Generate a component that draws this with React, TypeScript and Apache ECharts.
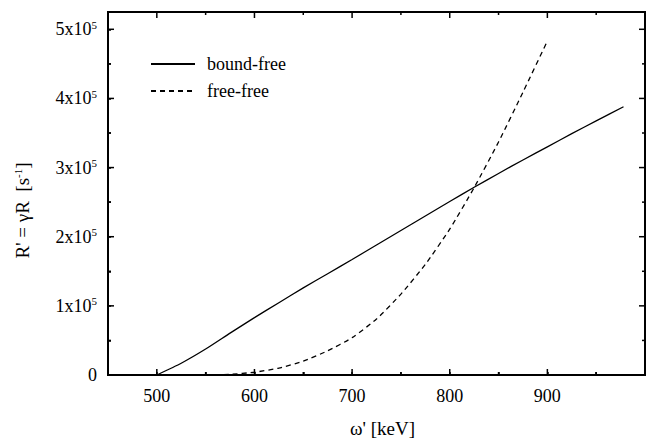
import React, { useEffect, useRef } from "react";
import * as echarts from "echarts";

const boundFreeX = [500, 525, 550, 575, 600, 625, 650, 675, 700, 725, 750, 775, 800, 825, 850, 875, 900, 925, 950, 978];
const boundFreeY = [0, 17000, 37500, 60500, 83000, 104500, 126000, 146500, 167000, 188000, 209000, 230000, 251000, 271500, 291500, 311000, 330000, 349000, 367500, 388000];
const freeFreeX = [550, 575, 600, 625, 650, 675, 700, 725, 750, 775, 800, 825, 850, 875, 900];
const freeFreeY = [0, 1000, 4000, 10000, 20000, 35000, 54000, 81000, 117000, 160000, 211000, 271000, 337000, 409000, 483000];
const xMajor = [500, 600, 700, 800, 900];
const xMinor = [550, 650, 750, 850, 950];
const yMajor = [0, 100000, 200000, 300000, 400000, 500000];
const yMinor = [50000, 150000, 250000, 350000, 450000];
const legendNames = ["bound-free", "free-free"];

const X_MIN = 450;
const X_MAX = 1000;
const Y_MIN = 0;
const Y_MAX = 525000;
const FONT = "Liberation Serif";

export default function App() {
  const ref = useRef<HTMLDivElement>(null);
  useEffect(() => {
    if (!ref.current) return;
    const chart = echarts.init(ref.current, null, { renderer: "svg" });
    const MAJOR = 6;
    const MINOR = 3;
    const xTickData = [...xMajor.map((v) => [v, Y_MIN, MAJOR]), ...xMinor.map((v) => [v, Y_MIN, MINOR])];
    const yTickData = [...yMajor.map((v) => [X_MIN, v, MAJOR]), ...yMinor.map((v) => [X_MIN, v, MINOR])];
    chart.setOption({
      animation: false,
      grid: {
        left: 108,
        top: 12,
        right: 3,
        bottom: 67,
        containLabel: false,
        show: true,
        borderColor: "#000",
        borderWidth: 2,
        backgroundColor: "transparent",
      },
      legend: {
        orient: "vertical",
        left: 150,
        top: 55,
        itemWidth: 44,
        itemHeight: 14,
        itemGap: 9,
        padding: 0,
        itemStyle: { opacity: 0 },
        textStyle: { fontFamily: FONT, fontSize: 18, color: "#000", padding: [0, 0, 0, 7] },
        data: legendNames,
      },
      xAxis: {
        type: "value",
        min: X_MIN,
        max: X_MAX,
        interval: 50,
        axisLine: { show: true, onZero: false, lineStyle: { color: "#000", width: 2 } },
        axisTick: { show: true, inside: true, length: 3, lineStyle: { color: "#000", width: 1.5 } },
        splitLine: { show: false },
        axisLabel: {
          show: true,
          margin: 12,
          fontFamily: FONT,
          fontSize: 18,
          color: "#000",
          formatter: (v: number) => (xMajor.indexOf(v) >= 0 ? String(v) : ""),
        },
        name: "ω' [keV]",
        nameLocation: "middle",
        nameGap: 44,
        nameTextStyle: { fontFamily: FONT, fontSize: 19, color: "#000", padding: [0, 0, 0, 12] },
      },
      yAxis: {
        type: "value",
        min: Y_MIN,
        max: Y_MAX,
        interval: 50000,
        axisLine: { show: true, onZero: false, lineStyle: { color: "#000", width: 2 } },
        axisTick: { show: true, inside: true, length: 3, lineStyle: { color: "#000", width: 1.5 } },
        splitLine: { show: false },
        axisLabel: {
          show: true,
          margin: 11,
          fontFamily: FONT,
          fontSize: 18,
          color: "#000",
          formatter: (v: number) =>
            yMajor.indexOf(v) < 0 ? "" : v === 0 ? "{a|0}" : `{a|${Math.round(v / 100000)}x10}{s|5}`,
          rich: {
            a: { fontFamily: FONT, fontSize: 18, color: "#000" },
            s: { fontFamily: FONT, fontSize: 11, color: "#000", padding: [0, 0, 9, 0] },
          },
        },
        name: "{a|R' = γR  [s}{s|-1}{a|]}",
        nameLocation: "middle",
        nameRotate: 90,
        nameGap: 76,
        nameTextStyle: {
          fontFamily: FONT,
          fontSize: 19,
          color: "#000",
          padding: [0, 34, 0, 0],
          rich: {
            a: { fontFamily: FONT, fontSize: 19, color: "#000" },
            s: { fontFamily: FONT, fontSize: 11, color: "#000", padding: [0, 0, 9, 0] },
          },
        },
      },
      series: [
        {
          name: legendNames[0],
          type: "line",
          symbol: "none",
          smooth: 0.2,
          data: boundFreeX.map((x, i) => [x, boundFreeY[i]]),
          lineStyle: { color: "#000", width: 1.3, type: "solid" },
          itemStyle: { color: "#000" },
        },
        {
          name: legendNames[1],
          type: "line",
          symbol: "none",
          smooth: 0.2,
          data: freeFreeX.map((x, i) => [x, freeFreeY[i]]),
          lineStyle: { color: "#000", width: 1.3, type: [5, 4] },
          itemStyle: { color: "#000" },
        },
        {
          name: "xTicks",
          type: "custom",
          silent: true,
          clip: false,
          data: xTickData,
          renderItem: (params: any, api: any) => {
            const v = api.value(0);
            const len = api.value(2);
            const b = api.coord([v, Y_MIN]);
            const t = api.coord([v, Y_MAX]);
            return {
              type: "group",
              children: [
                { type: "line", shape: { x1: b[0], y1: b[1], x2: b[0], y2: b[1] - len }, style: { stroke: "#000", lineWidth: 1.5 } },
                { type: "line", shape: { x1: t[0], y1: t[1], x2: t[0], y2: t[1] + len }, style: { stroke: "#000", lineWidth: 1.5 } },
              ],
            };
          },
        },
        {
          name: "yTicks",
          type: "custom",
          silent: true,
          clip: false,
          data: yTickData,
          renderItem: (params: any, api: any) => {
            const v = api.value(1);
            const len = api.value(2);
            const l = api.coord([X_MIN, v]);
            const r = api.coord([X_MAX, v]);
            return {
              type: "group",
              children: [
                { type: "line", shape: { x1: l[0], y1: l[1], x2: l[0] + len, y2: l[1] }, style: { stroke: "#000", lineWidth: 1.5 } },
                { type: "line", shape: { x1: r[0], y1: r[1], x2: r[0] - len, y2: r[1] }, style: { stroke: "#000", lineWidth: 1.5 } },
              ],
            };
          },
        },
      ],
    });
    return () => chart.dispose();
  }, []);
  return <div ref={ref} style={{ width: 648, height: 443, position: "absolute", left: 0, top: 0 }} />;
}
